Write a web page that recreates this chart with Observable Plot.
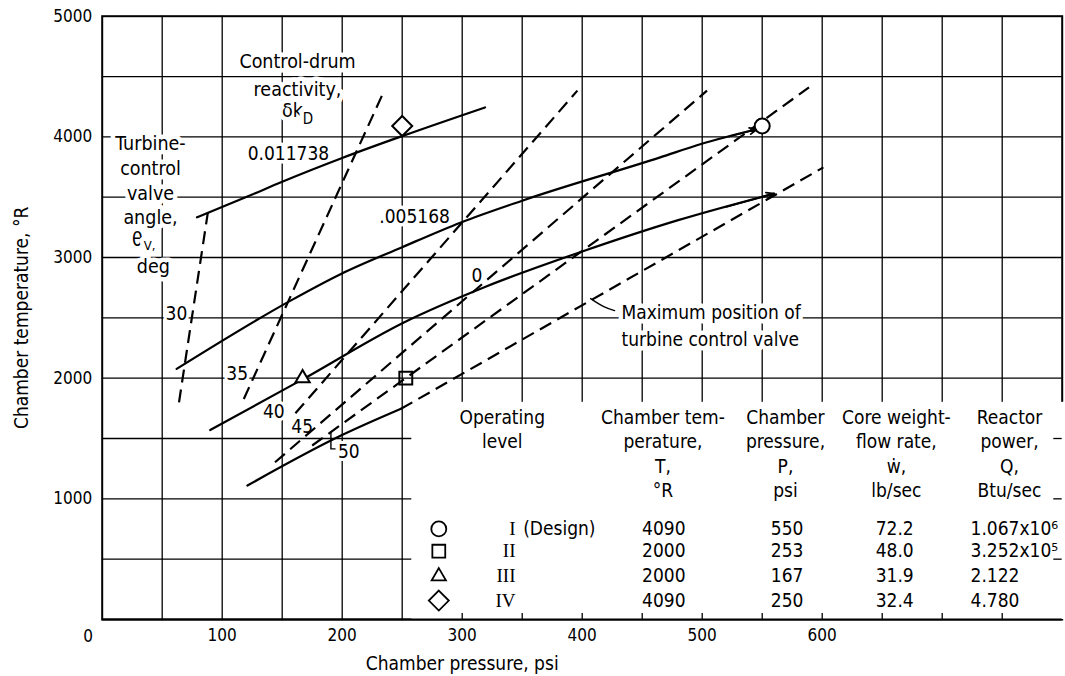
<!DOCTYPE html>
<html><head><meta charset="utf-8">
<script src="https://cdn.jsdelivr.net/npm/d3@7"></script>
<script src="https://cdn.jsdelivr.net/npm/@observablehq/plot@0.6"></script>
<style>
html,body{margin:0;padding:0;background:#fff;}
#chart svg{display:block;}
</style></head><body><div id="chart"></div>
<script>
// ---------------- DATA ----------------
// grid / ticks (psi, °R)
const xGrid = [50,100,150,200,250,300,350,400,450,500,550,600,650,700,750];
const yGrid = [500,1000,1500,2000,2500,3000,3500,4000,4500];
const xTickLabels = [100,200,300,400,500,600];
const yTickLabels = [1000,2000,3000,4000,5000];
const bottomTicks = [300,350,400,450,500,550,600,650,700,750];
const rightTicks = [500,1000,1500];

// control-drum reactivity lines (solid): chamber pressure, psi -> chamber temperature, °R
const drumLevels = ["0.011738", ".005168", "0", "lower"];
const drumA_P = [79, 121, 150, 200, 251, 319];
const drumA_T = [3333, 3505, 3628, 3825, 4010, 4244];
const drumB_P = [62, 157, 199, 250, 299, 350, 465, 499, 546];
const drumB_T = [2077, 2643, 2864, 3086, 3291, 3471, 3830, 3941, 4065];
const drumC_P = [90, 167, 251, 320, 400, 480, 560];
const drumC_T = [1570, 1990, 2460, 2760, 3050, 3310, 3530];
const drumD_P = [121, 199, 249];
const drumD_T = [1110, 1524, 1746];

// turbine-control valve angle lines (dashed), deg
const valveAngles = ["30", "35", "40", "45", "50", "max"];
const valveP0 = [64, 118, 161, 144, 175, 249];
const valveT0 = [1800, 1828, 1709, 1303, 1442, 1746];
const valveP1 = [88, 235, 396, 504, 589, 601];
const valveT1 = [3370, 4383, 4383, 4383, 4410, 3747];

// operating levels
const levels = ["I", "II", "III", "IV"];
const levelNotes = ["(Design)", "", "", ""];
const levelSymbols = ["circle", "square", "triangle", "diamond"];
const chamberTemp = [4090, 2000, 2000, 4090];
const chamberPress = [550, 253, 167, 250];
const flowRate = ["72.2", "48.0", "31.9", "32.4"];
const reactorPower = ["1.067x10\u2076", "3.252x10\u2075", "2.122", "4.780"];

const tableHeaders = ["Operating\nlevel", "Chamber tem-\nperature,\nT,\n\u00b0R", "Chamber\npressure,\nP,\npsi", "Core weight-\nflow rate,\n\u1e87,\nlb/sec", "Reactor\npower,\nQ,\nBtu/sec"];

// ---------------- LAYOUT / STYLE ----------------
const FONT = "'DejaVu Sans Condensed', 'DejaVu Sans', sans-serif";
const symbolStyle = {
  circle:   {symbol: "circle",    r: 7.5, fill: "white"},
  square:   {symbol: "square2",   r: 8.2, fill: "none"},
  triangle: {symbol: "triangle2", r: 6.8, fill: "white"},
  diamond:  {symbol: "diamond2",  r: 9,   fill: "white"}
};
const tableMask = [{x1: 258, x2: 815, y1: 0, y2: 1800}];
const table = {symbolP: 280.5, levelP: 344.4, noteP: 350.8, tempP: 468, pressP: 570.8, flowP: 660.4, powerP: 723.6,
               rowT: [751, 566, 358, 157], headerP: [333.4, 467.3, 569.4, 661.8, 756.1], headerTopT: 1768};
const drumLabelPos = [{P: 155.2, T: 3857}, {P: 260.3, T: 3339}, {P: 312.3, T: 2850}];
const valveLabelPos = [{P: 61.9, T: 2533}, {P: 112.5, T: 2036}, {P: 143, T: 1717}, {P: 166.7, T: 1599}, {P: 205.5, T: 1386}];
const blockLabels = [
  {text: "Control-drum\nreactivity,", P: 162.75, T: 4527, lh: 1.42, size: 19.5, anchor: "middle"},
  {text: "\u03b4k", P: 158.5, T: 4217, lh: 1, size: 19.5, anchor: "middle"},
  {text: "D", P: 171.5, T: 4147, lh: 1, size: 15, anchor: "middle"},
  {text: "Turbine-\ncontrol\nvalve\nangle,\n\n deg", P: 40.25, T: 3444, lh: 1.26, size: 19.5, anchor: "middle"},
  {text: "\u03b8", P: 29.2, T: 3148, lh: 1, size: 19.5, anchor: "middle"},
  {text: "V,", P: 39.5, T: 3099, lh: 1, size: 13, anchor: "middle"},
  {text: "Maximum position of\nturbine control valve", P: 432.75, T: 2450, lh: 1.4, size: 19, anchor: "start"}
];
const leader = [{P: 407, T: 2660}, {P: 418, T: 2593}, {P: 427, T: 2560}];
const hook50 = [{P: 190.6, T: 1554}, {P: 190.6, T: 1414}, {P: 194, T: 1414}];

// ---------------- BUILD TABLES ----------------
const drumCurves = [[drumA_P, drumA_T], [drumB_P, drumB_T], [drumC_P, drumC_T], [drumD_P, drumD_T]];
const drumData = drumCurves.flatMap(([ps, ts], k) => ps.map((p, i) => ({level: drumLevels[k], P: p, T: ts[i]})));
const valveData = valveAngles.map((a, i) => ({angle: a, P0: valveP0[i], T0: valveT0[i], P1: valveP1[i], T1: valveT1[i]}));
const ops = levels.map((lv, i) => ({level: lv, note: levelNotes[i], sym: levelSymbols[i], T: chamberTemp[i], P: chamberPress[i],
  w: flowRate[i], Q: reactorPower[i], row: table.rowT[i]}));
// arrowheads on ends of the ".005168" and "0" lines (last segment of each)
const arrowData = [[drumB_P, drumB_T], [drumC_P, drumC_T]].map(([ps, ts]) => {
  const n = ps.length, f = 0.5;
  return {x1: ps[n-1] - f*(ps[n-1]-ps[n-2]), y1: ts[n-1] - f*(ts[n-1]-ts[n-2]), x2: ps[n-1], y2: ts[n-1]};
});

const halo = {stroke: "white", strokeWidth: 9, fill: "black"};

const marks = [
  Plot.ruleX(xGrid, {stroke: "black", strokeWidth: 1.3}),
  Plot.ruleY(yGrid, {stroke: "black", strokeWidth: 1.3}),
  Plot.frame({stroke: "black", strokeWidth: 2}),
  Plot.rect(tableMask, {x1: "x1", x2: "x2", y1: "y1", y2: "y2", fill: "white"}),
  Plot.ruleY([0], {stroke: "black", strokeWidth: 2}),
  Plot.ruleX(bottomTicks, {y1: 0, y2: 50, stroke: "black", strokeWidth: 1.3}),
  Plot.ruleY(rightTicks, {x1: 793, x2: 800, stroke: "black", strokeWidth: 1.3}),
  Plot.axisX({ticks: xTickLabels, tickSize: 0, tickPadding: 9, tickFormat: d => String(d), fontSize: 17, label: null}),
  Plot.axisY({ticks: yTickLabels, tickSize: 0, tickPadding: 10, tickFormat: d => String(d), fontSize: 17, label: null}),
  Plot.text([0], {x: d => d, y: d => d, text: d => String(d), dx: -14, dy: 17, fontSize: 17}),
  Plot.text(["Chamber pressure, psi"], {x: () => 300, y: () => 0, text: d => d, dy: 44, fontSize: 19}),
  Plot.text(["Chamber temperature, \u00b0R"], {frameAnchor: "left", rotate: -90, dx: -80, textAnchor: "middle", text: d => d, fontSize: 19}),
  // labels with white halo (mask the grid behind, as in the original)
  ...blockLabels.map(b => Plot.text([b], {x: "P", y: "T", text: "text", lineHeight: b.lh, fontSize: b.size, textAnchor: b.anchor, ...halo})),
  Plot.text(drumLabelPos, {x: "P", y: "T", text: (d, i) => drumLevels[i], fontSize: 19, ...halo, strokeWidth: 7}),
  Plot.text(valveLabelPos, {x: "P", y: "T", text: (d, i) => valveAngles[i], fontSize: 19, ...halo, strokeWidth: 6}),
  // curves
  Plot.line(drumData, {x: "P", y: "T", z: "level", curve: "monotone-x", stroke: "black", strokeWidth: 2.2}),
  Plot.link(valveData, {x1: "P0", y1: "T0", x2: "P1", y2: "T1", stroke: "black", strokeWidth: 2.2, strokeDasharray: "13,7"}),
  Plot.arrow(arrowData, {x1: "x1", y1: "y1", x2: "x2", y2: "y2", stroke: "black", strokeWidth: 1.8, headLength: 7, headAngle: 45}),
  Plot.line(leader, {x: "P", y: "T", curve: "natural", stroke: "black", strokeWidth: 1.4}),
  Plot.line(hook50, {x: "P", y: "T", stroke: "black", strokeWidth: 1.4}),
  // operating points
  ...levelSymbols.map(s => Plot.dot(ops.filter(d => d.sym === s), {x: "P", y: "T", ...symbolStyle[s], stroke: "black", strokeWidth: 2})),
  // table
  Plot.text(tableHeaders, {x: (d, i) => table.headerP[i], y: () => table.headerTopT, text: d => d, lineAnchor: "top", lineHeight: 1.29, fontSize: 19}),
  ...levelSymbols.map(s => Plot.dot(ops.filter(d => d.sym === s), {x: () => table.symbolP, y: "row", ...symbolStyle[s], stroke: "black", strokeWidth: 1.8})),
  Plot.text(ops, {x: () => table.levelP, y: "row", text: "level", textAnchor: "end", fontSize: 19, fontFamily: "'Liberation Serif', serif"}),
  Plot.text(ops, {x: () => table.noteP, y: "row", text: "note", textAnchor: "start", fontSize: 19}),
  Plot.text(ops, {x: () => table.tempP, y: "row", text: d => String(d.T), fontSize: 19}),
  Plot.text(ops, {x: () => table.pressP, y: "row", text: d => String(d.P), fontSize: 19}),
  Plot.text(ops, {x: () => table.flowP, y: "row", text: "w", fontSize: 19}),
  Plot.text(ops, {x: () => table.powerP, y: "row", text: "Q", textAnchor: "start", fontSize: 19})
];

const chart = Plot.plot({
  width: 1065, height: 676,
  marginLeft: 101.7, marginRight: 3.3, marginTop: 15.7, marginBottom: 57,
  x: {domain: [0, 800]},
  y: {domain: [0, 5000]},
  style: `font-family: ${FONT}; font-size: 19px; background: white; color: black;`,
  marks
});
document.getElementById("chart").appendChild(chart);
</script>
</body></html>
